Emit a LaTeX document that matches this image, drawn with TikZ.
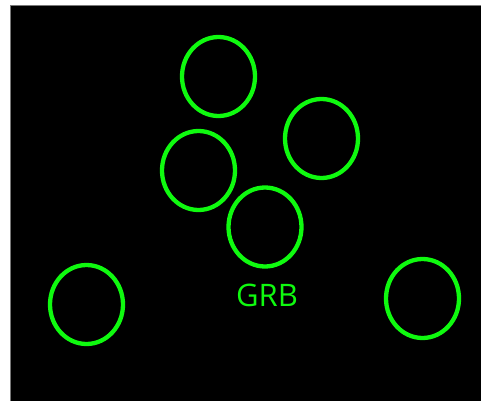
\documentclass[tikz,border=0pt]{standalone}
\usepackage{fontspec}
\setsansfont{Open Sans}
\usetikzlibrary{shapes.geometric}
\definecolor{leuchtgruen}{RGB}{15, 250, 15}
\definecolor{rahmen}{RGB}{120, 120, 120}

\begin{document}
\begin{tikzpicture}[x=1pt, y=-1pt,
    ring/.style={ellipse, draw=leuchtgruen, line width=4.3pt, minimum width=73pt, minimum height=79pt, inner sep=0pt}]

    \useasboundingbox (0,0) rectangle (481,401);
    \fill[black] (10,5) rectangle (481,401);
    \draw[rahmen, line width=1pt] (10.5,401) -- (10.5,5.5) -- (481,5.5);

    % Quellen
    \node[ring] (oben) at (218.5,76.5) {};
    \node[ring] (rechts) at (321.5,138.5) {};
    \node[ring] (mitte) at (198.5,170.5) {};
    \node[ring] (grb) at (265,227) {};
    \node[ring] (linksunten) at (86.5,304.5) {};
    \node[ring] (rechtsunten) at (422.5,298.5) {};
    \node[leuchtgruen, font=\sffamily\fontsize{31}{31}\selectfont, inner sep=0pt] (grbtext) at (267,295) {GRB};

\end{tikzpicture}
\end{document}
